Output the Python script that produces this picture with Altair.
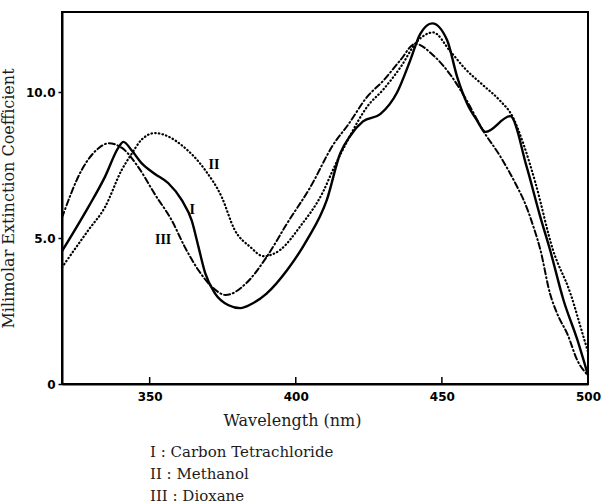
import altair as alt
import pandas as pd

# ---- data ----
wl_I = [320, 329, 334.7, 339.3, 341, 343.9, 347.3, 351.8, 356.4, 361, 364.4, 366.7, 369,
        372.4, 377, 381, 385, 390, 397, 403.8, 410.6, 415.2, 418.6, 423, 428.9, 434.7,
        439.2, 442.6, 446.7, 451.8, 455.3, 458.7, 462, 464.9, 473.4, 479, 483.7, 487,
        491.6, 496.4, 500]
ext_I = [4.55, 6.06, 7.1, 8.1, 8.3, 8.0, 7.56, 7.2, 6.88, 6.3, 5.6, 4.7, 3.8,
         3.1, 2.7, 2.6, 2.75, 3.1, 3.9, 4.93, 6.3, 7.9, 8.5, 9.0, 9.25, 10.0,
         11.1, 12.0, 12.36, 11.78, 10.5, 9.6, 9.04, 8.64, 9.18, 7.45, 5.72, 4.6,
         2.88, 1.5, 0.3]

wl_II = [320, 329, 334.7, 340.4, 343.9, 347, 351.8, 356, 361, 369, 374.7, 379, 384.4,
         389, 394.7, 401.5, 409.4, 413, 418, 424.4, 430, 435.8, 441.6, 447, 452.9,
         458, 464, 470, 474, 478, 482, 488, 494, 498.5, 500]
ext_II = [4.0, 5.27, 6.06, 7.33, 7.9, 8.35, 8.6, 8.5, 8.18, 7.33, 6.4, 5.3, 4.7,
          4.38, 4.6, 5.4, 6.6, 7.4, 8.4, 9.5, 10.1, 10.85, 11.75, 12.05, 11.4,
          10.8, 10.25, 9.7, 9.2, 8.2, 6.9, 4.6, 3.1, 1.6, 1.1]

wl_III = [320, 326.7, 332.4, 335.9, 340.4, 346, 351.8, 357.6, 362, 366.7, 371.3, 376,
          383, 390, 397, 405, 412.8, 418, 424.4, 430, 435.8, 440.9, 447, 452.9, 458.6,
          464, 470, 475.8, 478, 481.3, 483.7, 487, 489.5, 493, 496.4, 500]
ext_III = [5.7, 7.33, 8.07, 8.25, 8.1, 7.45, 6.5, 5.6, 4.7, 3.9, 3.33, 3.05,
           3.45, 4.35, 5.5, 6.75, 8.2, 8.9, 9.84, 10.4, 11.1, 11.66, 11.27, 10.6, 9.7,
           8.7, 7.8, 6.75, 6.3, 5.4, 4.6, 3.1, 2.4, 1.7, 0.8, 0.3]

curve_labels = ["II", "I", "III"]
curve_label_wl = [372.0, 364.6, 354.6]
curve_label_ext = [7.5, 5.95, 4.93]

legend_lines = ["I : Carbon Tetrachloride", "II : Methanol", "III : Dioxane"]
x_ticks = [350, 400, 450, 500]
y_ticks = [0, 5, 10]

X_DOMAIN = [320, 500]
Y_DOMAIN = [0, 12.75]

W, H = 526, 372
SERIF = "DejaVu Serif"
TXT = "#1c1c1c"

df_I = pd.DataFrame({"wl": wl_I, "ext": ext_I})
df_II = pd.DataFrame({"wl": wl_II, "ext": ext_II})
df_III = pd.DataFrame({"wl": wl_III, "ext": ext_III})

x_enc = alt.X(
    "wl:Q",
    scale=alt.Scale(domain=X_DOMAIN, nice=False, zero=False),
    axis=alt.Axis(
        values=x_ticks, title="Wavelength (nm)", ticks=False, grid=False,
        labelFont="DejaVu Sans", labelFontWeight="bold", labelFontSize=12,
        labelColor="black", labelPadding=7, labelFlush=False,
        titleFont=SERIF, titleFontSize=16, titleFontWeight="normal",
        titleColor=TXT, titlePadding=10, titleX=230,
        domainColor="black", domainWidth=2,
    ),
)
y_enc = alt.Y(
    "ext:Q",
    scale=alt.Scale(domain=Y_DOMAIN, nice=False),
    axis=alt.Axis(
        values=y_ticks, title="Milimolar Extinction Coefficient", grid=False,
        labelExpr="datum.value == 0 ? '0' : format(datum.value, '.1f')",
        labelFont="DejaVu Sans", labelFontWeight="bold", labelFontSize=12,
        labelColor="black", labelPadding=3, labelFlush=False,
        tickColor="black", tickSize=4, tickWidth=1.5,
        titleFont=SERIF, titleFontSize=16, titleFontWeight="normal",
        titleColor=TXT, titlePadding=9, domainColor="black", domainWidth=2,
    ),
)

line_I = alt.Chart(df_I).mark_line(
    color="black", strokeWidth=2.4, interpolate="monotone"
).encode(x=x_enc, y=y_enc)

line_II = alt.Chart(df_II).mark_line(
    color="black", strokeWidth=2.2, interpolate="monotone",
    strokeDash=[0.5, 3.2], strokeCap="round"
).encode(x=x_enc, y=y_enc)

line_III = alt.Chart(df_III).mark_line(
    color="black", strokeWidth=2.0, interpolate="monotone",
    strokeDash=[6, 3, 1, 3], strokeCap="round"
).encode(x=x_enc, y=y_enc)

# inward x ticks
tick_df = pd.DataFrame({"wl": x_ticks[:-1]})
ticks = alt.Chart(tick_df).mark_rule(color="black", strokeWidth=1.5).encode(
    x=alt.X("wl:Q", scale=alt.Scale(domain=X_DOMAIN, nice=False, zero=False)),
    y=alt.value(H), y2=alt.value(H - 7)
)

lab_df = pd.DataFrame({"lab": curve_labels, "wl": curve_label_wl, "ext": curve_label_ext})
labels = alt.Chart(lab_df).mark_text(
    font="Liberation Serif", fontWeight="bold", fontSize=14, color="black"
).encode(x=x_enc, y=y_enc, text="lab:N")

legend_layers = []
for i, line in enumerate(legend_lines):
    legend_layers.append(
        alt.Chart(pd.DataFrame({"line": [line]})).mark_text(
            font=SERIF, fontSize=15, color=TXT, align="left", baseline="middle"
        ).encode(x=alt.value(88), y=alt.value(440 + 22 * i), text="line:N")
    )

chart = alt.layer(line_II, line_III, line_I, ticks, labels, *legend_layers).properties(
    width=W, height=H,
    autosize=alt.AutoSizeParams(type="none"),
    padding={"left": 62, "top": 12, "right": 16, "bottom": 120},
    background="white",
).configure_view(
    stroke="black", strokeWidth=2
)

chart.save("out.html", embed_options={"renderer": "svg", "actions": False})
